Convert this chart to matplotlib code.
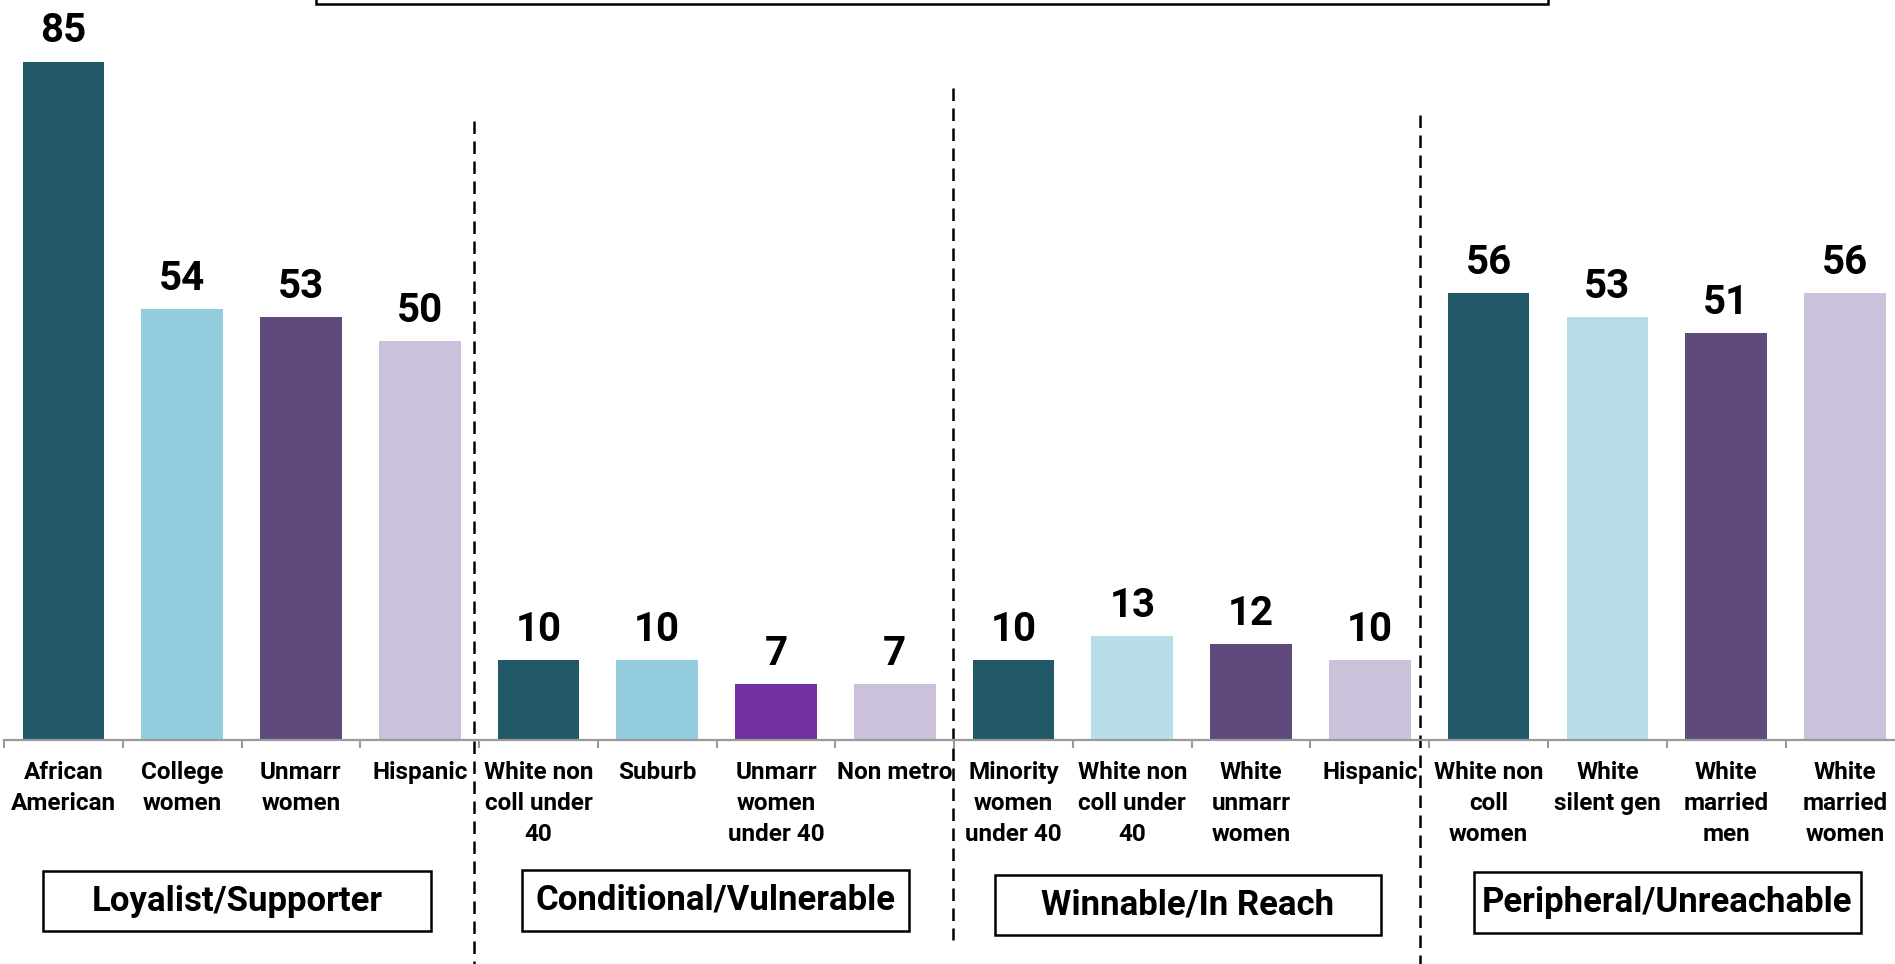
import numpy as np
import matplotlib.pyplot as plt
from matplotlib.patches import Rectangle

plt.rcParams['font.family'] = ['Roboto', 'DejaVu Sans']
plt.rcParams['font.weight'] = 'bold'

# data
labels = ["African\nAmerican", "College\nwomen", "Unmarr\nwomen", "Hispanic",
          "White non\ncoll under\n40", "Suburb", "Unmarr\nwomen\nunder 40", "Non metro",
          "Minority\nwomen\nunder 40", "White non\ncoll under\n40", "White\nunmarr\nwomen", "Hispanic",
          "White non\ncoll\nwomen", "White\nsilent gen", "White\nmarried\nmen", "White\nmarried\nwomen"]
values = [85, 54, 53, 50, 10, 10, 7, 7, 10, 13, 12, 10, 56, 53, 51, 56]
colors = ["#215968", "#93CDDD", "#604A7B", "#CCC1DA",
          "#215968", "#93CDDD", "#7030A0", "#CCC1DA",
          "#215968", "#B7DEE8", "#604A7B", "#CCC1DA",
          "#215968", "#B7DEE8", "#604A7B", "#CCC1DA"]
groups = ["Loyalist/Supporter", "Conditional/Vulnerable", "Winnable/In Reach", "Peripheral/Unreachable"]

W, H = 1895, 964
fig = plt.figure(figsize=(W / 100, H / 100), dpi=100)


def fx(px):
    return px / W


def fy(py):
    # py measured from the top of the picture
    return 1 - py / H


slot = 118.77
ax = fig.add_axes([fx(4), fy(740), fx(16 * slot), 740 / H])
x = np.arange(len(values))
ax.bar(x, values, width=0.688, color=colors)
ax.set_xlim(-0.5, len(values) - 0.5)
ax.set_ylim(0, 740 / 7.98)

for xi, v in zip(x, values):
    ax.annotate(str(v), (xi, v), xytext=(0, 14), textcoords="offset points",
                ha="center", va="baseline", fontsize=29, fontweight="bold")

for s in ["top", "right", "left"]:
    ax.spines[s].set_visible(False)
ax.spines["bottom"].set_color("#9a9a9a")
ax.spines["bottom"].set_linewidth(1.6)
ax.set_yticks([])
ax.set_xticks(x)
ax.set_xticklabels(labels, fontsize=17.5, fontweight="bold", linespacing=1.45, va="top")
ax.set_xticks(np.arange(-0.5, len(values) + 0.5, 1), minor=True)
ax.tick_params(axis="x", which="major", length=0, pad=15)
ax.tick_params(axis="x", which="minor", length=6, width=1.5, color="#9a9a9a", direction="out")

# dashed separators between groups
tr = ax.get_xaxis_transform()
for xd, top, bot in [(3.461, 121, 964), (7.494, 88, 940), (11.422, 115, 964)]:
    ax.plot([xd, xd], [(740 - top) / 740, (740 - bot) / 740], transform=tr,
            color="black", lw=1.8, linestyle=(0, (5, 3)), clip_on=False)

# group boxes
boxes = [(43, 871, 431, 931), (522, 870, 909, 931), (995, 875, 1381, 935), (1474, 872, 1861, 933)]
for name, (x0, y0, x1, y1) in zip(groups, boxes):
    fig.add_artist(Rectangle((fx(x0), fy(y1)), fx(x1 - x0), (y1 - y0) / H,
                             transform=fig.transFigure, facecolor="white",
                             edgecolor="black", lw=1.8))
    fig.text(fx((x0 + x1) / 2), fy((y0 + y1) / 2), name, ha="center", va="center",
             fontsize=25, fontweight="bold")

# title box cut off at top
fig.add_artist(Rectangle((fx(316), fy(4)), fx(1548 - 316), 60 / H,
                         transform=fig.transFigure, facecolor="white",
                         edgecolor="black", lw=1.8))

fig.savefig("out.png", dpi=100)
